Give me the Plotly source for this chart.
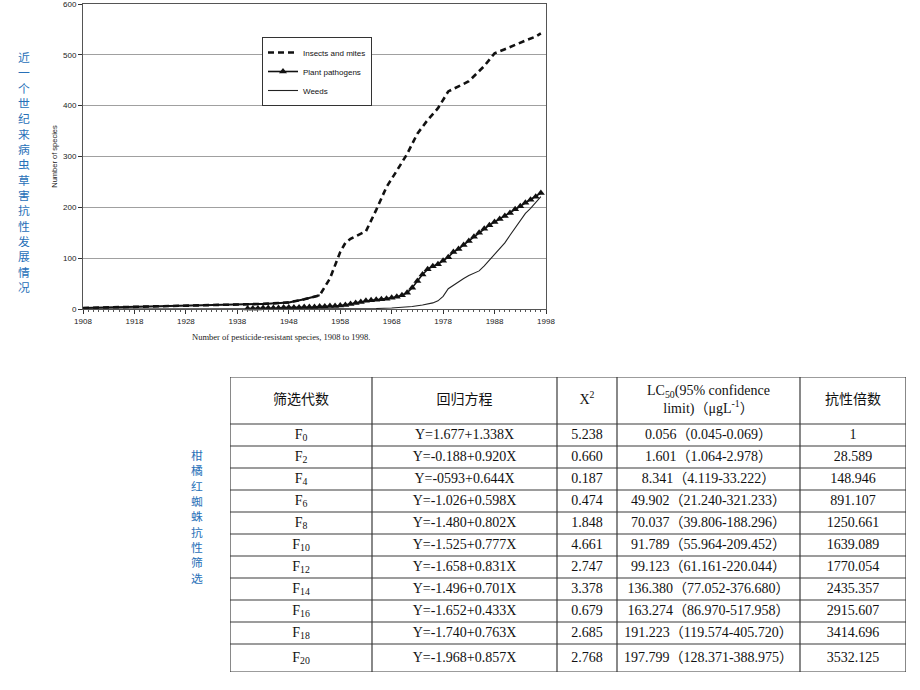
import plotly.graph_objects as go

# ---------------- chart data ----------------
insect_years = [1908, 1918, 1928, 1938, 1943, 1948, 1951, 1954, 1956, 1958, 1959, 1960, 1963,
                1965, 1967, 1969, 1971, 1973, 1975, 1977, 1979, 1981, 1983, 1986, 1988, 1990,
                1992, 1994, 1996, 1997]
insect_vals = [2, 4, 6, 8, 10, 13, 19, 27, 60, 112, 130, 138, 153,
               195, 240, 272, 305, 345, 372, 395, 428, 438, 448, 478, 503, 511,
               520, 528, 536, 542]

patho_years = list(range(1940, 1998))
patho_vals = [1, 1, 1, 2, 2, 2, 2, 3, 3, 3, 3, 4, 4, 4, 5, 5, 6, 6, 7, 8,
              10, 12, 14, 16, 17, 18, 19, 20, 22, 24, 27, 32, 42, 55, 68, 78, 84, 88, 95, 102,
              112, 118, 126, 134, 142, 150, 158, 165, 171, 177, 183, 189, 196, 202, 209, 215,
              221, 228]

weed_years = [1908, 1950, 1960, 1965, 1968, 1970, 1972, 1974, 1976, 1977, 1978, 1979, 1980,
              1981, 1982, 1983, 1984, 1985, 1986, 1987, 1988, 1989, 1990, 1991, 1992, 1993,
              1994, 1995, 1996, 1997]
weed_vals = [0, 0, 1, 1, 2, 3, 5, 8, 12, 16, 25, 40, 47,
             53, 60, 66, 71, 75, 85, 96, 106, 118, 130, 145, 160, 175,
             188, 198, 210, 221]

x_ticks = list(range(1908, 1999, 10))
y_ticks = [0, 100, 200, 300, 400, 500, 600]

# ---------------- table data ----------------
tbl_header = ["筛选代数", "回归方程", "X<sup>2</sup>",
              "LC<sub>50</sub>(95% confidence<br>limit)（μgL<sup>-1</sup>）", "抗性倍数"]
generations = ["F<sub>0</sub>", "F<sub>2</sub>", "F<sub>4</sub>", "F<sub>6</sub>", "F<sub>8</sub>",
               "F<sub>10</sub>", "F<sub>12</sub>", "F<sub>14</sub>", "F<sub>16</sub>",
               "F<sub>18</sub>", "F<sub>20</sub>"]
equations = ["Y=1.677+1.338X", "Y=-0.188+0.920X", "Y=-0593+0.644X", "Y=-1.026+0.598X",
             "Y=-1.480+0.802X", "Y=-1.525+0.777X", "Y=-1.658+0.831X", "Y=-1.496+0.701X",
             "Y=-1.652+0.433X", "Y=-1.740+0.763X", "Y=-1.968+0.857X"]
chi2 = ["5.238", "0.660", "0.187", "0.474", "1.848", "4.661", "2.747", "3.378", "0.679",
        "2.685", "2.768"]
lc50 = ["0.056（0.045-0.069）", "1.601（1.064-2.978）", "8.341（4.119-33.222）",
        "49.902（21.240-321.233）", "70.037（39.806-188.296）", "91.789（55.964-209.452）",
        "99.123（61.161-220.044）", "136.380（77.052-376.680）", "163.274（86.970-517.958）",
        "191.223（119.574-405.720）", "197.799（128.371-388.975）"]
ratio = ["1", "28.589", "148.946", "891.107", "1250.661", "1639.089", "1770.054",
         "2435.357", "2915.607", "3414.696", "3532.125"]

title1 = "近一个世纪来病虫草害抗性发展情况"
title2 = "柑橘红蜘蛛抗性筛选"

W, H = 920, 690
def px(x):
    return x / W
def py(y):
    return 1 - y / H

# table layout (pixel units relative to table's top-left corner)
TBL_LEFT, TBL_RIGHT, TBL_TOP, TBL_BOTTOM = 230, 906, 377, 672
col_edges = [0, 142, 327, 387, 570, 676]
row_edges = [0, 47] + [47 + 22 * i for i in range(1, 11)] + [295]

col_centers = [(a + b) / 2 for a, b in zip(col_edges[:-1], col_edges[1:])]
row_centers = [(a + b) / 2 for a, b in zip(row_edges[:-1], row_edges[1:])]

fig = go.Figure()

fig.add_trace(go.Scatter(
    x=insect_years, y=insect_vals, mode="lines", name="Insects and mites",
    line=dict(color="#111111", width=2.6, dash="6px,4px"), cliponaxis=False))
# early, nearly flat portion of the insect curve appears as a solid line
early = [(x, v) for x, v in zip(insect_years, insect_vals) if x <= 1954]
fig.add_trace(go.Scatter(
    x=[e[0] for e in early], y=[e[1] for e in early], mode="lines", showlegend=False,
    line=dict(color="#111111", width=2), hoverinfo="skip"))
fig.add_trace(go.Scatter(
    x=patho_years, y=patho_vals, mode="lines+markers", name="Plant pathogens",
    line=dict(color="#111111", width=1.6),
    marker=dict(symbol="triangle-up", size=7, color="#111111"), cliponaxis=False))
fig.add_trace(go.Scatter(
    x=weed_years, y=weed_vals, mode="lines", name="Weeds",
    line=dict(color="#222222", width=1.1), cliponaxis=False))

# ---------------- table drawn on its own axes ----------------
tfont = dict(family="Liberation Serif, Noto Sans CJK SC", size=14, color="#111")
fig.add_trace(go.Scatter(
    x=col_centers, y=[row_centers[0]] * 5, text=tbl_header, mode="text",
    textposition="middle center", textfont=tfont, xaxis="x2", yaxis="y2",
    showlegend=False, hoverinfo="skip", cliponaxis=False))
for j, col in enumerate([generations, equations, chi2, lc50, ratio]):
    fig.add_trace(go.Scatter(
        x=[col_centers[j]] * len(col), y=row_centers[1:], text=col, mode="text",
        textposition="middle center", textfont=tfont, xaxis="x2", yaxis="y2",
        showlegend=False, hoverinfo="skip", cliponaxis=False))

shapes = []
for r in row_edges:
    shapes.append(dict(type="line", xref="x2", yref="y2", x0=col_edges[0], x1=col_edges[-1],
                       y0=r, y1=r, line=dict(color="#3a3a3a", width=1.2)))
for c in col_edges:
    shapes.append(dict(type="line", xref="x2", yref="y2", x0=c, x1=c,
                       y0=row_edges[0], y1=row_edges[-1], line=dict(color="#3a3a3a", width=1.2)))

axis_font = dict(family="Liberation Sans, Arial", size=8, color="#222")
fig.update_layout(
    width=W, height=H, margin=dict(l=0, r=0, t=0, b=0),
    paper_bgcolor="white", plot_bgcolor="white",
    showlegend=True,
    legend=dict(x=px(262), y=py(37), xanchor="left", yanchor="top",
                bordercolor="#333", borderwidth=1, bgcolor="white",
                font=dict(family="Liberation Sans, Arial", size=8, color="#111"),
                tracegroupgap=0),
    xaxis=dict(domain=[px(83), px(546)], range=[1908, 1998], tickvals=x_ticks,
               ticks="outside", ticklen=4, tickcolor="#333", showgrid=False, zeroline=False,
               showline=True, linecolor="#555", mirror=True, tickfont=axis_font,
               automargin=False, ticklabeloverflow="allow",
               minor=dict(dtick=1, tick0=1908, ticks="outside", ticklen=2, tickcolor="#555")),
    yaxis=dict(domain=[py(309), py(4)], range=[0, 600], tickvals=y_ticks,
               ticks="outside", ticklen=4, tickcolor="#333", showgrid=True,
               gridcolor="#a0a0a0", gridwidth=1, zeroline=False, automargin=False,
               ticklabeloverflow="allow",
               showline=True, linecolor="#555", mirror=True, tickfont=axis_font,
               title=dict(text="Number of species", font=dict(family="Liberation Sans, Arial",
                          size=7.5, color="#222"), standoff=4)),
    xaxis2=dict(domain=[px(TBL_LEFT), px(TBL_RIGHT)], range=[col_edges[0], col_edges[-1]],
                visible=False, fixedrange=True, anchor="y2", automargin=False),
    yaxis2=dict(domain=[py(TBL_BOTTOM), py(TBL_TOP)], range=[row_edges[-1], row_edges[0]],
                visible=False, fixedrange=True, anchor="x2", automargin=False),
    shapes=shapes,
    annotations=[
        dict(text="Number of pesticide-resistant species, 1908 to 1998.", x=px(281), y=py(337),
             xref="paper", yref="paper", showarrow=False, xanchor="center", yanchor="middle",
             font=dict(family="Liberation Serif, Times New Roman", size=8.5, color="#222")),
        dict(text="<br>".join(title1), x=px(24), y=py(171), xref="paper", yref="paper",
             showarrow=False, xanchor="center", yanchor="middle",
             font=dict(family="Noto Sans CJK SC", size=11.8, color="#2770B8")),
        dict(text="<br>".join(title2), x=px(197), y=py(516), xref="paper", yref="paper",
             showarrow=False, xanchor="center", yanchor="middle",
             font=dict(family="Noto Sans CJK SC", size=11.8, color="#2770B8")),
    ],
)

fig.write_html("out.html", config={"displayModeBar": False},
               post_script="document.body.style.margin='0';")
